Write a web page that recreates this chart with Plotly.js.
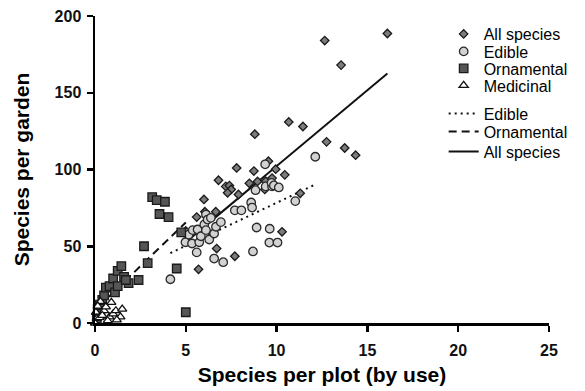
<!DOCTYPE html>
<html>
<head>
<meta charset="utf-8">
<script src="https://cdn.plot.ly/plotly-3.0.1.min.js"></script>
<style>
  html, body { margin: 0; padding: 0; background: #fff; }
  #chart { width: 585px; height: 391px; }
</style>
</head>
<body>
<div id="chart"></div>
<script>
// Species richness: per-plot counts (by use) against per-garden totals
var allX = [5.0, 5.6, 5.7, 6.0, 6.05, 6.65, 6.7, 6.8, 7.2, 7.4, 7.5, 7.3, 7.7, 7.8, 7.9, 8.5, 8.75, 8.8,
            8.95, 9.4, 9.35, 9.55, 9.75, 9.95, 10.3, 10.45, 10.67, 11.3, 11.45, 12.65, 12.75, 13.55, 13.75, 14.35, 16.1];
var allY = [60, 69, 35, 80.5, 72.5, 72.5, 48.5, 93, 89, 89.5, 87, 84.8, 43.5, 101, 83.7, 91, 99, 123,
            92.2, 92.4, 87, 105.4, 94.4, 100.2, 59.4, 96.5, 131, 84.5, 128, 184, 118, 168, 114, 109.3, 188.6];

var edibleX = [4.15, 4.98, 5.0, 5.16, 5.34, 5.38, 5.6, 5.65, 5.74, 5.83, 6.02, 6.11, 6.11, 6.2, 6.29, 6.38,
               6.56, 6.56, 6.66, 6.93, 7.06, 7.7, 8.06, 8.6, 8.65, 8.7, 8.84, 8.9, 9.37, 9.4, 9.62, 9.6,
               9.75, 9.72, 9.85, 10.05, 10.12, 11.03, 12.13];
var edibleY = [28.5, 52.6, 58.8, 57.6, 51.8, 60.5, 46, 60.9, 52.6, 56.5, 64.2, 60.5, 70.7, 67.4, 54.4, 68.5,
               58.3, 42, 62.7, 65.7, 39.6, 73.4, 73.4, 78.5, 75.2, 46.6, 86.5, 62.2, 103.4, 89, 61.4, 52.4,
               89, 91.3, 89.6, 52.4, 88.3, 79.4, 108.3];

var ornX = [0.1, 0.15, 0.25, 0.3, 0.4, 0.5, 0.6, 0.8, 1.0, 1.1, 1.25, 1.25, 1.45, 1.6, 1.85, 1.7, 2.4,
            2.7, 2.9, 3.15, 3.4, 3.85, 3.55, 4.05, 4.5, 4.75, 5.0];
var ornY = [3, 9, 12, 6, 15, 18, 23, 24, 29, 20, 34, 24, 37, 30, 26, 28, 28,
            50, 39, 82, 80, 79, 71, 69, 35.5, 59, 7];

var medX = [0, 0.05, 0.1, 0.25, 0.3, 0.5, 0.6, 0.8, 0.9, 1.0, 1.15, 1.4, 1.5, 0.15, 0.4, 0.7, 1.2];
var medY = [0, 7, 3, 3.5, 14, 8, 10.5, 4, 13.5, 6, 8, 4, 9, 11, 5, 1.5, 2];

// Linear fits (slope, intercept) for edible, ornamental and all species
var fitNames = ['Edible', 'Ornamental', 'All species'];
var fitSlope = [5.6, 11.4, 9.9];
var fitIntercept = [22.3, 8.5, 3.2];

var FONT = 'Arial, "Liberation Sans", sans-serif';

function fitLine(xs, k) {
  var lo = Math.min.apply(null, xs), hi = Math.max.apply(null, xs);
  return { x: [lo, hi], y: [fitSlope[k] * lo + fitIntercept[k], fitSlope[k] * hi + fitIntercept[k]] };
}

var fitSources = [edibleX, ornX, allX];
var fitDash = ['2px,4px', '8px,5px', 'solid'];
var fitLegend = ['legend5', 'legend6', 'legend7'];

var traces = [];
fitSources.forEach(function (xs, k) {
  var l = fitLine(xs, k);
  traces.push({
    type: 'scatter', mode: 'lines', x: l.x, y: l.y, name: fitNames[k],
    line: { color: '#111', width: 2, dash: fitDash[k] },
    legend: fitLegend[k], cliponaxis: false, hoverinfo: 'skip'
  });
});

traces.push({
  type: 'scatter', mode: 'markers', x: allX, y: allY, name: 'All species', legend: 'legend',
  marker: { symbol: 'diamond', size: 6.5, color: '#7c7c7c', line: { color: '#1a1a1a', width: 1.3 } },
  cliponaxis: false
});
traces.push({
  type: 'scatter', mode: 'markers', x: edibleX, y: edibleY, name: 'Edible', legend: 'legend2',
  marker: { symbol: 'circle', size: 8.5, color: '#d2d2d2', line: { color: '#2a2a2a', width: 1.3 } },
  cliponaxis: false
});
traces.push({
  type: 'scatter', mode: 'markers', x: ornX, y: ornY, name: 'Ornamental', legend: 'legend3',
  marker: { symbol: 'square', size: 8.5, color: '#565656', line: { color: '#1a1a1a', width: 1.3 } },
  cliponaxis: false
});
traces.push({
  type: 'scatter', mode: 'markers', x: medX, y: medY, name: 'Medicinal', legend: 'legend4',
  marker: { symbol: 'triangle-up', size: 8, color: '#ffffff', line: { color: '#111', width: 1.3 } },
  cliponaxis: false
});

// one legend per row so the rows can sit tightly together
var PLOT_TOP = 16, PLOT_BOTTOM = 323;
function rowY(px) { return (PLOT_BOTTOM - px) / (PLOT_BOTTOM - PLOT_TOP); }
var legendRows = [34, 51.5, 68.5, 85.5, 113.5, 131.5, 151.5];
var legendKeys = ['legend', 'legend2', 'legend3', 'legend4', 'legend5', 'legend6', 'legend7'];

var layout = {
  width: 585, height: 391,
  margin: { l: 95, r: 33, t: PLOT_TOP, b: 391 - PLOT_BOTTOM },
  paper_bgcolor: '#fff', plot_bgcolor: '#fff',
  font: { family: FONT, color: '#000' },
  showlegend: true,
  xaxis: {
    range: [0, 25], dtick: 5, tick0: 0,
    showline: true, linecolor: '#000', linewidth: 2.5,
    ticks: 'outside', ticklen: 6, tickwidth: 2.5, tickcolor: '#000',
    showgrid: false, zeroline: false,
    ticklabelstandoff: 5,
    tickfont: { family: FONT, size: 16, weight: 'bold', color: '#111' },
    title: { text: 'Species per plot (by use)', standoff: 10,
             font: { family: FONT, size: 21, weight: 'bold', color: '#000' } }
  },
  yaxis: {
    range: [0, 200], dtick: 50, tick0: 0,
    showline: true, linecolor: '#000', linewidth: 2.5,
    ticks: 'outside', ticklen: 6, tickwidth: 2.5, tickcolor: '#000',
    showgrid: false, zeroline: false,
    ticklabelstandoff: 2,
    tickfont: { family: FONT, size: 16, weight: 'bold', color: '#111' },
    title: { text: 'Species per garden', standoff: 19,
             font: { family: FONT, size: 21, weight: 'bold', color: '#000' } }
  }
};

legendKeys.forEach(function (key, i) {
  layout[key] = {
    x: 0.768, xanchor: 'left', y: rowY(legendRows[i]), yanchor: 'middle',
    bgcolor: 'rgba(0,0,0,0)', borderwidth: 0,
    font: { family: FONT, size: 16, color: '#000' }
  };
});

Plotly.newPlot('chart', traces, layout, { displayModeBar: false, staticPlot: true });
</script>
</body>
</html>
